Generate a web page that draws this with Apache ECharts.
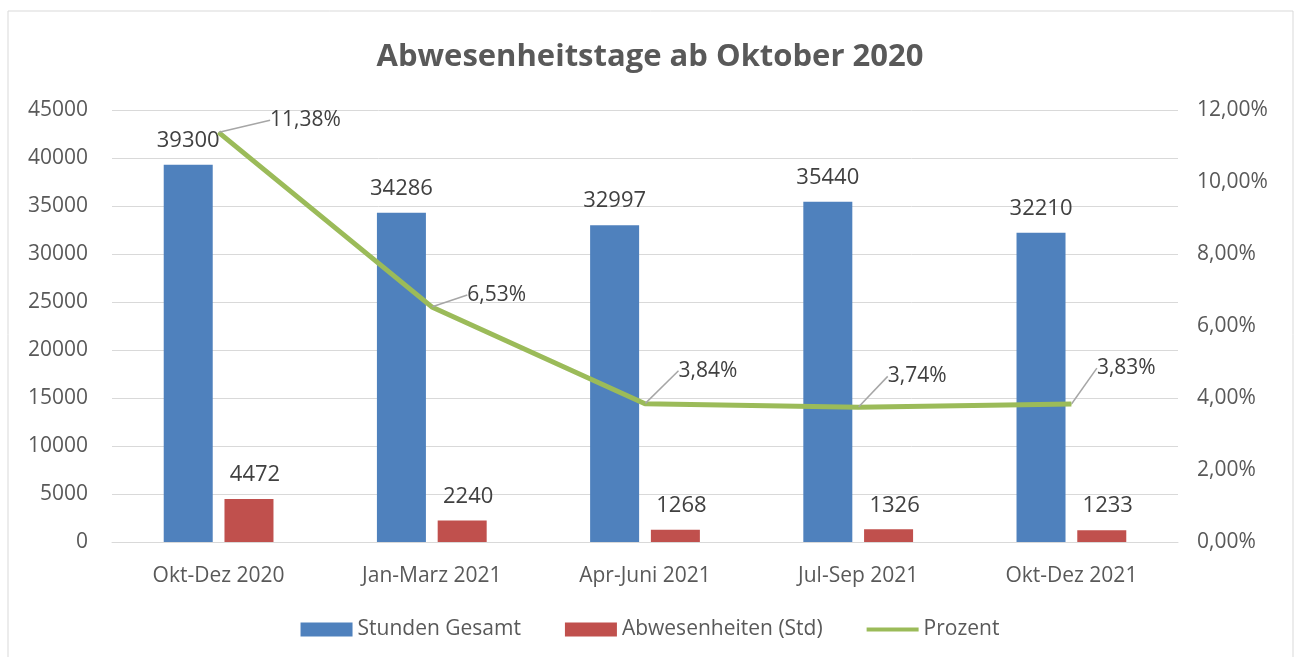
<!DOCTYPE html>
<html>
<head>
<meta charset="utf-8">
<title>Abwesenheitstage ab Oktober 2020</title>
<script src="https://cdn.jsdelivr.net/npm/echarts@6/dist/echarts.min.js"></script>
<style>
    html, body { margin: 0; padding: 0; background: #fff; }
    #chart { width: 1300px; height: 657px; }
</style>
</head>
<body>
<div id="chart"></div>
<script>
    // Daten
    var categories = ['Okt-Dez 2020', 'Jan-Marz 2021', 'Apr-Juni 2021', 'Jul-Sep 2021', 'Okt-Dez 2021'];
    var stundenGesamt = [39300, 34286, 32997, 35440, 32210];
    var abwesenheiten = [4472, 2240, 1268, 1326, 1233];
    var prozent = [11.38, 6.53, 3.84, 3.74, 3.83];

    // Versatz der Prozent-Beschriftungen (nur Layout)
    var labelDx = [46, 30, 28, 24, 20];
    var labelDy = [-12, -12, -33, -31, -36];

    var fontName = 'Open Sans, Liberation Sans, sans-serif';

    function pct(v) {
        return v.toFixed(2).replace('.', ',') + '%';
    }

    var option = {
        backgroundColor: '#fff',
        animation: false,
        textStyle: { fontFamily: fontName },
        title: {
            text: 'Abwesenheitstage ab Oktober 2020',
            left: 'center',
            top: 37,
            textStyle: { fontSize: 31, fontWeight: 'bold', color: '#595959', fontFamily: fontName }
        },
        graphic: [{
            type: 'rect',
            shape: { x: 8, y: 11, width: 1285, height: 660 },
            style: { fill: 'none', stroke: '#d9d9d9', lineWidth: 1 },
            silent: true
        }],
        legend: {
            bottom: 12,
            left: 'center',
            itemWidth: 52,
            itemHeight: 14,
            itemGap: 44,
            textStyle: { fontSize: 21, color: '#595959', fontFamily: fontName },
            data: [
                { name: 'Stunden Gesamt', icon: 'rect' },
                { name: 'Abwesenheiten (Std)', icon: 'rect' },
                { name: 'Prozent', icon: 'path://M0,0L0,0M52,14L52,14M0,5L52,5L52,9L0,9Z' }
            ]
        },
        grid: { left: 112, right: 122, top: 110, bottom: 115 },
        xAxis: {
            type: 'category',
            data: categories,
            axisTick: { show: false },
            axisLine: { lineStyle: { color: '#d9d9d9', width: 1 } },
            axisLabel: { fontSize: 21, color: '#595959', margin: 24 }
        },
        yAxis: [{
            type: 'value',
            min: 0,
            max: 45000,
            interval: 5000,
            axisLabel: { fontSize: 21, color: '#595959', margin: 24, formatter: function (v) { return String(v); } },
            splitLine: { lineStyle: { color: '#d9d9d9', width: 1 } },
            axisLine: { show: false },
            axisTick: { show: false }
        }, {
            type: 'value',
            min: 0,
            max: 12,
            interval: 2,
            axisLabel: { fontSize: 21, color: '#595959', margin: 19, formatter: pct },
            splitLine: { show: false },
            axisLine: { show: false },
            axisTick: { show: false }
        }],
        series: [{
            name: 'Stunden Gesamt',
            type: 'bar',
            data: stundenGesamt,
            barWidth: 49,
            barGap: '24%',
            itemStyle: { color: '#4f81bd' },
            label: { show: true, position: 'top', distance: 13, fontSize: 22, color: '#404040' }
        }, {
            name: 'Abwesenheiten (Std)',
            type: 'bar',
            data: abwesenheiten,
            barWidth: 49,
            itemStyle: { color: '#c0504d' },
            label: { show: true, position: 'top', distance: 13, fontSize: 22, color: '#404040', offset: [6, 0] }
        }, {
            name: 'Prozent',
            type: 'line',
            yAxisIndex: 1,
            data: prozent,
            symbol: 'circle',
            symbolSize: 1,
            showSymbol: true,
            lineStyle: { color: '#9bbb59', width: 5 },
            itemStyle: { color: '#9bbb59' },
            label: { show: true, position: 'right', distance: 5, fontSize: 21, color: '#404040', formatter: function (p) { return pct(p.value); } },
            labelLine: { show: true, lineStyle: { color: '#a6a6a6', width: 1.5 } },
            labelLayout: function (params) {
                return { dx: labelDx[params.dataIndex], dy: labelDy[params.dataIndex] };
            }
        }]
    };

    var myChart = echarts.init(document.getElementById('chart'));
    myChart.setOption(option);
</script>
</body>
</html>
